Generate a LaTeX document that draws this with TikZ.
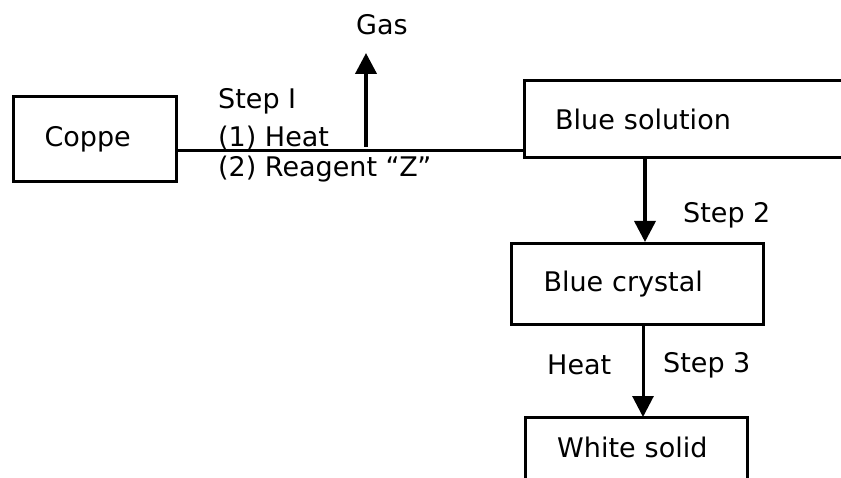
\documentclass[tikz,border=0pt]{standalone}
\usepackage{fontspec}
\setmainfont{DejaVu Sans}
\usetikzlibrary{arrows.meta}
\begin{document}
\begin{tikzpicture}[x=1pt,y=-1pt,
  box/.style={rectangle, inner ysep=0pt, align=left, font=\fontsize{27}{32}\selectfont, anchor=north west},
  framed/.style={box, draw, line width=3pt},
  lbl/.style={inner sep=0pt, anchor=west, font=\fontsize{27}{32}\selectfont},
  edge/.style={line width=3pt, line cap=butt},
  arr/.style={line width=3.5pt, -{Triangle[width=21pt,length=21pt]}}]
\useasboundingbox (0,0) rectangle (841,478);

% boxes
\node[framed, minimum width=163pt, minimum height=85pt, text width=101pt, inner xsep=31pt] (cu) at (12,95) {Coppe};
\node[box, minimum width=317pt, minimum height=76pt, text width=255pt, inner xsep=31pt] (bs) at (524,81) {Blue solution};
\draw[edge] (bs.north east) -- (bs.north west) -- (bs.south west) -- (bs.south east);
\node[framed, minimum width=252pt, minimum height=81pt, text width=188pt, inner xsep=32pt] (bc) at (510,242) {Blue crystal};
\node[box, minimum width=222pt, minimum height=61pt, text width=158pt, inner xsep=32pt] (ws) at (525,417) {White solid};
\draw[edge] (ws.south west) -- (ws.north west) -- (ws.north east) -- (ws.south east);

% step 1
\draw[edge] (cu.east |- 0,151) -- (bs.west |- 0,151);
\node[lbl, anchor=center] (gas) at (382,25) {Gas};
\coordinate (gb) at (366,147);
\coordinate (gt) at (366,53);
\draw[arr, line width=4pt] (gb) -- (gt);
\node[lbl] (s1) at (218,101) {Step I};
\node[lbl] (h1) at (218,138) {(1) Heat};
\node[lbl] (r1) at (218,169) {(2) Reagent “Z”};

% step 2
\draw[arr] (bs.south -| 645,0) -- (bc.north -| 645,0);
\node[lbl] (s2) at (683,215) {Step 2};

% step 3
\draw[arr, line width=3pt] (bc.south -| 643,0) -- (ws.north -| 643,0);
\node[lbl] (h3) at (547,365) {Heat};
\node[lbl] (s3) at (663,365) {Step 3};
\end{tikzpicture}
\end{document}
